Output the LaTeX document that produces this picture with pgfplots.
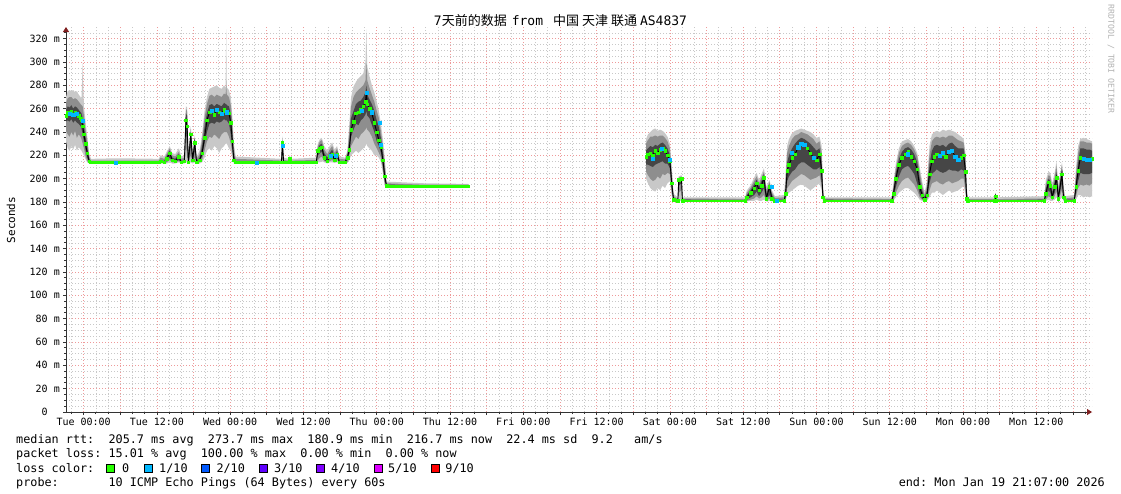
\documentclass[border=0pt]{standalone}
\usepackage{fontspec}
\usepackage{pgfplots}
\pgfplotsset{compat=1.18}
\usepackage{pgfplotstable}
\usepgfplotslibrary{fillbetween}
\usetikzlibrary{arrows.meta}
\setmainfont{DejaVu Sans}
\setmonofont{DejaVu Sans Mono}
\newfontfamily\cjk{Noto Sans CJK SC}

\definecolor{mgrid}{HTML}{EE9A9A}
\definecolor{sgrid}{HTML}{C8C8C8}
\definecolor{sm1}{HTML}{C8C8C8}
\definecolor{sm2}{HTML}{8E8E8E}
\definecolor{sm3}{HTML}{464646}
\definecolor{loss0}{HTML}{26FF00}
\definecolor{loss1}{HTML}{00B8FF}
\definecolor{loss2}{HTML}{0059FF}
\definecolor{loss3}{HTML}{5E00FF}
\definecolor{loss4}{HTML}{7E00FF}
\definecolor{loss5}{HTML}{DD00FF}
\definecolor{loss9}{HTML}{FF0000}
\definecolor{axred}{HTML}{7F1F1F}

\newcommand\rrd{\fontsize{11.8bp}{14bp}\selectfont\ttfamily}
\newcommand\tck{\fontsize{10bp}{12bp}\selectfont\ttfamily}

% hours from Tue 00:00; med = median rtt, l*/u* = smoke bands (ms)
\pgfplotstableread{
h med l1 l2 l3 u3 u2 u1
-2.883 254 232 241 249 259 265 270
-2.6 257 226 238 250 262 269 275
-2.3 256 224 236 249 261 270 276
-2.0 258 228 240 251 263 270 275
-1.7 255 225 237 248 260 268 276
-1.4 257 229 241 250 262 269 274
-1.1 256 224 235 248 261 268 275
-0.8 254 227 238 247 259 266 272
-0.5 252 225 236 245 257 264 270
-0.35 250 224 234 243 256 263 268
-0.15 245 222 230 238 252 262 300
0.05 238 220 226 232 246 254 262
0.3 230 217 220 225 236 243 250
0.6 222 214 215 218 227 232 236
0.9 215 213 213.5 214 217 219 222
1.2 214 213 213.5 214 214.5 215.5 217
5.5 214 213 213.5 214 214.5 215.5 217.5
12.3 214 213 213.5 214 214.5 215.5 217
12.6 215 213 214 214.5 216 218 220
13.2 214 213 213.5 214 215 217 219
13.6 217 213 214 215 219 221 223
14.1 222 214 216 218 224 226 228
14.5 216 213 214 215 218 220 222
15.0 215 213 214 214.5 217 219 221
15.6 219 214 215 216 221 223 226
16.0 214 213 213.5 214 215 217 219
16.5 215 213 214 214.5 216 218 220
16.75 250 214 228 242 256 260 262
16.95 245 214 220 230 254 258 261
17.15 214 213 213.5 214 216 218 220
17.55 238 214 220 228 240 243 245
17.85 216 213 214 214.5 218 220 222
18.2 231 214 218 224 233 235 237
18.5 214 213 213.5 214 215.5 217 219
19.0 216 213 214 215 218 221 224
19.4 222 214 216 219 228 233 238
19.8 235 218 224 230 244 252 258
20.2 250 224 232 240 256 264 270
20.6 257 226 236 247 263 271 277
21.0 258 224 235 248 264 272 278
21.4 255 228 238 247 262 270 279
21.8 259 226 236 249 264 272 280
22.2 257 222 234 248 263 271 278
22.6 256 226 238 249 262 270 277
23.0 259 228 240 251 265 273 280
23.25 258 230 240 250 264 272 278
23.35 258 230 240 250 264 280 328
23.45 257 230 240 250 263 272 278
23.8 256 226 236 247 262 270 276
24.1 248 224 230 238 255 263 270
24.35 232 218 222 226 240 248 254
24.6 216 213 214 215 220 225 230
24.9 214 213 213.5 214 215 217 219
32.4 214 213 213.5 214 214.5 215.5 217
32.55 231 214 218 224 233 235 237
32.75 214 213 213.5 214 215 216 218
33.6 214 213 213.5 214 214.5 215.5 217
33.75 217 213.5 214 215 218 219 220
33.95 214 213 213.5 214 214.5 215.5 217
38.1 214 213 213.5 214 214.5 216 218
38.35 224 214 216 220 226 228 230
38.7 226 214 218 222 229 232 234
39.0 227 215 219 223 230 233 235
39.4 218 214 215 216 222 225 228
39.9 215 213 214 214.5 218 221 224
40.3 219 214 215 217 222 225 228
40.7 221 214 216 218 225 228 231
41.1 216 213.5 214 215 219 222 225
41.5 221 214 216 218 224 226 228
41.9 214 213 213.5 214 215 217 219
42.8 214 213 213.5 214 215 216.5 218
43.2 218 213.5 214 216 220 222 224
43.5 225 216 219 222 232 240 246
43.8 242 220 228 236 252 262 270
44.2 249 222 232 242 258 270 279
44.6 256 224 236 247 264 274 283
45.0 257 222 234 246 266 276 286
45.4 259 224 238 250 267 278 288
45.8 262 226 240 252 270 280 290
46.15 266 228 242 255 274 284 300
46.3 274 230 244 258 280 300 328
46.45 264 228 242 254 272 284 296
46.8 260 226 240 252 268 278 288
47.2 256 224 236 246 264 272 280
47.6 248 220 230 240 258 266 274
48.0 240 220 226 232 250 258 266
48.35 233 218 222 228 244 252 258
48.7 227 214 218 222 234 240 246
49.0 216 205 208 212 222 228 234
49.3 202 194 196 198 208 214 218
49.6 194 193 193.5 194 195 196 197.5
56.0 193.5 193 193.2 193.5 194 194.8 196
63.0 193.5 193 193.2 193.5 194 194.8 195.5
}\segA

\pgfplotstableread{
h med l1 l2 l3 u3 u2 u1
92.1 219 200 206 212 224 230 234
92.4 221 196 203 212 226 233 238
92.8 222 192 200 211 228 236 240
93.2 220 190 198 210 227 236 242
93.6 224 189 199 212 229 237 243
94.0 222 192 202 213 228 236 241
94.4 225 190 200 214 230 237 242
94.8 226 194 204 215 231 237 241
95.2 224 192 203 213 229 235 239
95.6 220 196 205 213 226 232 236
96.0 215 198 204 209 220 226 230
96.3 196 185 188 191 201 206 210
96.6 182 180 180.5 181 183 185 187
97.3 181 180.5 181 181 181.5 182.5 184
97.45 199 181 188 194 200 201 202
97.9 200 181 190 196 201 202 203
98.05 181 180.5 181 181 182 183 184
108.3 181 180.5 181 181 181.5 182.5 184
108.6 184 180.5 181 182 186 188 190
109.2 188 181 182 184 190 192 194
109.8 192 181 183 186 195 198 201
110.2 196 182 185 189 199 202 205
110.6 190 181 183 185 193 196 199
111.0 194 181 184 188 198 201 204
111.4 201 182 186 192 204 206 209
111.8 183 180.5 181 182 187 190 193
112.3 193 181 183 186 195 197 199
112.7 183 180.5 181 181.5 186 188 190
113.2 181 180.5 181 181 182 183.5 185
114.7 181 180.5 181 181 182 184 186
114.95 187 181 182 184 192 198 206
115.2 207 186 192 198 214 222 228
115.5 212 188 194 202 220 228 234
116.0 218 190 198 206 226 234 239
116.5 221 192 200 208 230 237 241
117.0 227 194 202 212 233 238 242
117.5 230 195 204 214 235 240 243
118.0 229 194 203 214 234 239 242
118.5 226 192 201 212 232 238 241
119.0 222 190 199 210 230 236 240
119.5 218 192 200 208 227 234 238
120.0 216 194 201 208 224 230 235
120.5 221 196 203 210 226 232 236
120.85 207 190 194 198 214 222 228
121.05 184 181 182 183 188 192 196
121.25 181 180.5 181 181 182 183 184
132.3 181 180.5 181 181 181.5 182.5 184
132.6 187 181 182 184 190 193 196
133.0 200 184 188 193 205 209 213
133.5 212 188 194 202 217 222 226
134.0 218 190 198 208 223 228 232
134.5 221 192 200 210 226 230 233
135.0 223 192 201 211 227 231 234
135.5 219 190 198 208 225 229 232
136.0 215 188 195 204 221 225 228
136.5 208 185 190 196 214 219 222
136.9 193 182 184 187 200 206 210
137.3 186 181 182 183 190 194 198
137.7 182 180.5 181 181 184 186 188
138.1 186 181 182 183 190 194 198
138.5 204 184 190 196 212 220 228
138.9 215 188 196 204 224 232 238
139.3 219 188 197 206 228 235 240
139.7 221 190 198 208 229 236 241
140.2 220 188 196 206 228 235 240
140.7 221 186 195 205 229 236 242
141.2 219 188 197 206 227 235 241
141.7 223 190 198 208 230 237 242
142.2 224 188 196 207 231 237 241
142.7 219 189 197 207 228 235 240
143.2 216 190 198 206 226 233 238
143.7 218 192 200 208 226 232 236
144.1 220 194 200 207 226 231 234
144.4 206 186 190 195 212 218 222
144.6 183 180.5 181 182 186 189 192
144.8 181 180.5 181 181 181.5 182.5 184
149.2 181 180.5 181 181 181.5 182.5 184
149.3 185 181 182 183 186 187 188
149.45 181 180.5 181 181 181.5 182.5 184
157.3 181 180.5 181 181 182 183 185
157.55 187 181 182 184 191 195 199
158.0 197 182 185 190 200 203 206
158.3 194 181 184 188 198 202 205
158.6 184 181 182 183 188 192 196
159.0 193 182 185 188 197 201 205
159.3 201 184 189 194 206 211 215
159.6 183 181 182 182.5 187 191 195
160.2 204 184 190 196 208 212 214
160.45 184 181 182 183 188 191 194
160.7 181 180.5 181 181 182 183 185
162.2 181 180.5 181 181 182 184 186
162.5 193 182 185 188 198 204 210
162.85 207 186 192 198 214 222 228
163.2 218 186 195 205 226 232 234
163.7 217 184 194 204 226 232 235
164.2 216 185 195 204 225 231 234
164.7 216 184 194 204 225 231 233
165.117 217 185 196 205 224 230 232
}\segB

\begin{document}
\begin{tikzpicture}
\begin{axis}[
  at={(66bp,-412bp)}, anchor=south west,
  scale only axis, width=1026bp, height=385bp,
  xmin=-2.883, xmax=165.117, ymin=0, ymax=330,
  axis lines=left,
  x axis line style={draw=black!80, line width=0.8bp, -{Triangle[length=5bp,width=6bp,color=axred]}},
  y axis line style={draw=black!80, line width=0.8bp, -{Triangle[length=5bp,width=6bp,color=axred]}},
  xtick={0,6,...,162},
  xticklabels={Tue 00:00,,Tue 12:00,,Wed 00:00,,Wed 12:00,,Thu 00:00,,Thu 12:00,,Fri 00:00,,Fri 12:00,,Sat 00:00,,Sat 12:00,,Sun 00:00,,Sun 12:00,,Mon 00:00,,Mon 12:00,},
  minor xtick={-2,2,4,8,10,14,16,20,22,26,28,32,34,38,40,44,46,50,52,56,58,62,64,68,70,74,76,80,82,86,88,92,94,98,100,104,106,110,112,116,118,122,124,128,130,134,136,140,142,146,148,152,154,158,160,164},
  ytick={0,20,...,320},
  yticklabels={0\hphantom{~m},20~m,40~m,60~m,80~m,100~m,120~m,140~m,160~m,180~m,200~m,220~m,240~m,260~m,280~m,300~m,320~m},
  minor ytick={5,10,15,25,30,35,45,50,55,65,70,75,85,90,95,105,110,115,125,130,135,145,150,155,165,170,175,185,190,195,205,210,215,225,230,235,245,250,255,265,270,275,285,290,295,305,310,315,325},
  grid=both,
  major grid style={draw=mgrid, dash pattern=on 1bp off 2bp, line width=0.7bp},
  minor grid style={draw=sgrid, dash pattern=on 1bp off 2bp, line width=0.6bp},
  tick align=outside, major tick length=3bp, minor tick length=2bp,
  tick style={black!80, line width=0.7bp},
  tick label style={font=\tck, inner sep=0pt},
  xticklabel style={anchor=base, yshift=-10.5bp},
  yticklabel style={anchor=east, xshift=-3bp},
]
% smoke, segment A
\addplot[draw=none, name path=a1] table[x=h,y=u1]{\segA};
\addplot[draw=none, name path=a2] table[x=h,y=u2]{\segA};
\addplot[draw=none, name path=a3] table[x=h,y=u3]{\segA};
\addplot[draw=none, name path=a4] table[x=h,y=l3]{\segA};
\addplot[draw=none, name path=a5] table[x=h,y=l2]{\segA};
\addplot[draw=none, name path=a6] table[x=h,y=l1]{\segA};
\addplot[fill=sm1, draw=none] fill between[of=a1 and a6];
\addplot[fill=sm2, draw=none] fill between[of=a2 and a5];
\addplot[fill=sm3, draw=none] fill between[of=a3 and a4];
% smoke, segment B
\addplot[draw=none, name path=b1] table[x=h,y=u1]{\segB};
\addplot[draw=none, name path=b2] table[x=h,y=u2]{\segB};
\addplot[draw=none, name path=b3] table[x=h,y=u3]{\segB};
\addplot[draw=none, name path=b4] table[x=h,y=l3]{\segB};
\addplot[draw=none, name path=b5] table[x=h,y=l2]{\segB};
\addplot[draw=none, name path=b6] table[x=h,y=l1]{\segB};
\addplot[fill=sm1, draw=none] fill between[of=b1 and b6];
\addplot[fill=sm2, draw=none] fill between[of=b2 and b5];
\addplot[fill=sm3, draw=none] fill between[of=b3 and b4];
% median
\addplot[black, line width=0.9bp] table[x=h,y=med]{\segA};
\addplot[black, line width=0.9bp] table[x=h,y=med]{\segB};
\addplot[only marks, mark=square*, mark size=1.3bp, mark options={draw=loss0, fill=loss0}] table[x=h,y=med]{\segA};
\addplot[only marks, mark=square*, mark size=1.3bp, mark options={draw=loss0, fill=loss0}] table[x=h,y=med]{\segB};
\addplot[loss0, line width=2.6bp, unbounded coords=jump] coordinates {
(1.0,214) (12.45,214) (12.45,nan)
(18.4,214) (18.7,214) (18.7,nan)
(24.85,214) (32.45,214) (32.45,nan)
(32.8,214) (33.65,214) (33.65,nan)
(33.9,214) (38.15,214) (38.15,nan)
(41.85,214) (42.85,214) (42.85,nan)
(49.6,193.5) (63.0,193.5) (63.0,nan)
(96.7,181) (97.35,181) (97.35,nan)
(98.0,181) (108.35,181) (108.35,nan)
(112.9,181) (114.75,181) (114.75,nan)
(121.15,181) (132.35,181) (132.35,nan)
(144.7,181) (157.35,181) (157.35,nan)
(160.6,181) (162.25,181)
};
% median points with 1/10 loss
\addplot[only marks, mark=square*, mark size=1.6bp, mark options={draw=loss1, fill=loss1}] coordinates {
(-2.3,256) (-1.7,255) (-1.1,256) (-0.15,250) (5.2,214)
(21.0,258) (21.8,259) (22.6,256) (23.45,257) (28.3,214) (32.55,228)
(40.5,220) (41.3,220) (45.6,258) (46.3,274) (47.2,257) (48.5,248) (48.7,229)
(93.2,217) (94.7,226) (96.0,216)
(112.7,193) (113.5,181) (116.0,222) (117.0,227) (117.5,230) (118.0,229) (119.5,218)
(135.0,221) (140.2,220) (140.7,222) (141.7,223) (142.2,224) (142.7,219) (143.2,216)
(163.7,217) (164.2,216) (164.7,216)
};
\end{axis}
% title and side text
\node[inner sep=0] at (560.5bp,-21bp) {\fontsize{13bp}{15bp}\selectfont\ttfamily 7{\cjk 天前的数据}\hspace{5bp}from\hspace{10bp}{\cjk 中国}\hspace{3bp}{\cjk 天津}\hspace{3bp}{\cjk 联通}\hspace{3bp}AS4837};
\node[rotate=-90, inner sep=0, text=black!30] at (1111bp,-59bp) {\fontsize{8.2bp}{9bp}\selectfont\ttfamily RRDTOOL / TOBI OETIKER};
\node[rotate=90, inner sep=0] at (11bp,-220bp) {\fontsize{11bp}{13bp}\selectfont\ttfamily Seconds};
% legend lines
\node[anchor=base west, inner sep=0] at (16bp,-443bp) {\rrd median~rtt:~~205.7~ms~avg~~273.7~ms~max~~180.9~ms~min~~216.7~ms~now~~22.4~ms~sd~~9.2~~~am/s};
\node[anchor=base west, inner sep=0] at (16bp,-457.5bp) {\rrd packet~loss:~15.01~\%~avg~~100.00~\%~max~~0.00~\%~min~~0.00~\%~now};
\node[anchor=base west, inner sep=0] at (16bp,-472bp) {\rrd loss~color:};
\node[anchor=base west, inner sep=0] at (16bp,-486.5bp) {\rrd probe:~~~~~~~10~ICMP~Echo~Pings~(64~Bytes)~every~60s};
\node[anchor=base east, inner sep=0] at (1105bp,-486.5bp) {\rrd end:~Mon~Jan~19~21:07:00~2026};
\foreach \cx/\tx/\col/\lab in {110.8/122/loss0/0, 148.6/159/loss1/1\slash 10, 205.5/216.3/loss2/2\slash 10, 263/273.9/loss3/3\slash 10, 320.3/331/loss4/4\slash 10, 378/388/loss5/5\slash 10, 435/445.2/loss9/9\slash 10} {
  \node[draw=black, fill=\col, minimum size=8bp, inner sep=0, line width=0.8bp] at (\cx bp,-468bp) {};
  \node[anchor=base west, inner sep=0] at (\tx bp,-472bp) {\rrd \lab};
}
% page frame
\path (0,0) rectangle (1121bp,-494bp);
\end{tikzpicture}
\end{document}
